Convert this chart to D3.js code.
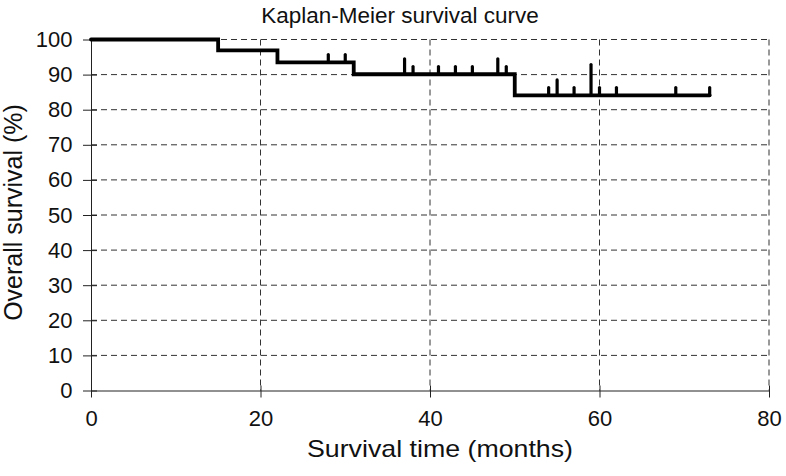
<!DOCTYPE html>
<html><head><meta charset="utf-8">
<script src="https://cdn.jsdelivr.net/npm/d3@7"></script>
<style>body{margin:0;background:#fff}</style>
</head><body>
<svg id="c" width="786" height="476"></svg>
<script>
// Step points of the survival curve: time (months) where survival drops, and new survival (%)
const stepTimes = [0, 15, 22, 31, 50];
const stepSurvival = [100, 96.9, 93.5, 90.1, 84.1];
const endTime = 73;
// Censored observations: time (months) and number censored at that time
const censorTimes = [28, 30, 37, 38, 41, 43, 45, 48, 49, 54, 55, 57, 59, 60, 62, 69, 73];
const censorCounts = [1, 1, 2, 1, 1, 1, 1, 2, 1, 1, 2, 1, 4, 1, 1, 1, 1];
const xTicks = [0, 20, 40, 60, 80];
const yTicks = [0, 10, 20, 30, 40, 50, 60, 70, 80, 90, 100];

const svg = d3.select("#c");
const m = {l: 91, r: 769, t: 39.5, b: 390.5};
const x = d3.scaleLinear().domain([0, 80]).range([m.l, m.r]);
const y = d3.scaleLinear().domain([0, 100]).range([m.b, m.t]);
const FONT = "Liberation Sans, Arial, sans-serif";

// gridlines
const g = svg.append("g");
g.selectAll("line.h").data(yTicks.filter(d => d > 0)).join("line")
  .attr("x1", m.l).attr("x2", m.r).attr("y1", d => y(d)).attr("y2", d => y(d))
  .attr("stroke", "#333").attr("stroke-width", 1).attr("stroke-dasharray", "6,4");
g.selectAll("line.v").data(xTicks.filter(d => d > 0)).join("line")
  .attr("y1", m.t).attr("y2", m.b).attr("x1", d => x(d)).attr("x2", d => x(d))
  .attr("stroke", "#333").attr("stroke-width", 1).attr("stroke-dasharray", "6,4");

// axes
const yAxis = d3.axisLeft(y).tickValues(yTicks).tickSizeInner(8).tickSizeOuter(0);
const ya = svg.append("g").attr("transform", `translate(${m.l},0)`).call(yAxis);
ya.selectAll(".tick line").attr("x2", -8).attr("x1", 6).attr("stroke", "#222");
ya.select(".domain").attr("stroke", "#222");
ya.selectAll("text").attr("font-family", FONT).attr("font-size", 22).attr("fill", "#111").attr("x", -18.5);

const xAxis = d3.axisBottom(x).tickValues(xTicks).tickSizeInner(7).tickSizeOuter(0);
const xa = svg.append("g").attr("transform", `translate(0,${m.b})`).call(xAxis);
xa.selectAll(".tick line").attr("y1", -5).attr("y2", 7).attr("stroke", "#222");
xa.select(".domain").attr("stroke", "#222");
xa.selectAll("text").attr("font-family", FONT).attr("font-size", 22).attr("fill", "#111")
  .attr("y", 20);

// survival step line
const pts = stepTimes.map((t, i) => [t, stepSurvival[i]]);
pts.push([endTime, stepSurvival[stepSurvival.length - 1]]);
const line = d3.line().x(d => x(d[0])).y(d => y(d[1])).curve(d3.curveStepAfter);
svg.append("path").datum(pts).attr("d", line).attr("fill", "none")
  .attr("stroke", "#000").attr("stroke-width", 3.8).attr("stroke-linejoin", "miter").attr("stroke-linecap", "round");

// censor marks
function survAt(t) {
  let s = stepSurvival[0];
  stepTimes.forEach((st, i) => { if (t >= st) s = stepSurvival[i]; });
  return s;
}
svg.append("g").selectAll("line").data(censorTimes.map((t, i) => ({t, n: censorCounts[i]}))).join("line")
  .attr("x1", d => x(d.t)).attr("x2", d => x(d.t))
  .attr("y1", d => y(survAt(d.t))).attr("y2", d => y(survAt(d.t)) - 7.7 * d.n)
  .attr("stroke", "#000").attr("stroke-width", 3.2).attr("stroke-linecap", "round");

// titles
svg.append("text").attr("x", 400).attr("y", 23).attr("text-anchor", "middle")
  .attr("font-family", FONT).attr("font-size", 22.5).attr("fill", "#111")
  .text("Kaplan-Meier survival curve");
svg.append("text").attr("x", 440).attr("y", 456.5).attr("text-anchor", "middle")
  .attr("font-family", FONT).attr("font-size", 24).attr("fill", "#111")
  .attr("textLength", 266).attr("lengthAdjust", "spacingAndGlyphs")
  .text("Survival time (months)");
svg.append("text").attr("transform", "translate(21.5,212.5) rotate(-90)").attr("text-anchor", "middle")
  .attr("font-family", FONT).attr("font-size", 25).attr("fill", "#111")
  .text("Overall survival (%)");
</script>
</body></html>
